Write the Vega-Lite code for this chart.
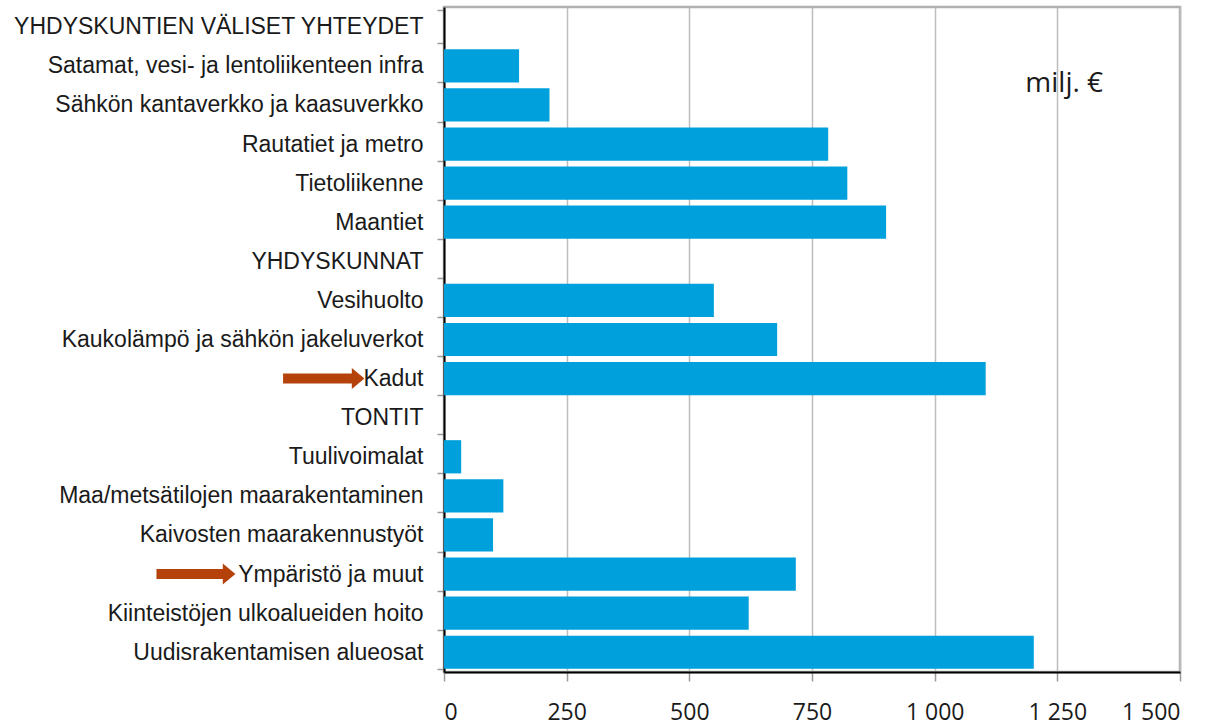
{
  "$schema": "https://vega.github.io/schema/vega-lite/v6.json",
  "autosize": {"type": "none"},
  "width": 736,
  "height": 665,
  "padding": {"left": 444, "top": 7, "right": 39, "bottom": 53},
  "background": "white",
  "config": {
    "view": {"stroke": "#b0b0b0", "strokeWidth": 2.5},
    "axis": {"labelColor": "#1a1a1a", "title": null}
  },
  "datasets": {
    "bars": [
      {"cat": "YHDYSKUNTIEN VÄLISET YHTEYDET", "value": null},
      {"cat": "Satamat, vesi- ja lentoliikenteen infra", "value": 153},
      {"cat": "Sähkön kantaverkko ja kaasuverkko", "value": 215},
      {"cat": "Rautatiet ja metro", "value": 783},
      {"cat": "Tietoliikenne", "value": 822},
      {"cat": "Maantiet", "value": 901},
      {"cat": "YHDYSKUNNAT", "value": null},
      {"cat": "Vesihuolto", "value": 550},
      {"cat": "Kaukolämpö ja sähkön jakeluverkot", "value": 679},
      {"cat": "Kadut", "value": 1104},
      {"cat": "TONTIT", "value": null},
      {"cat": "Tuulivoimalat", "value": 35},
      {"cat": "Maa/metsätilojen maarakentaminen", "value": 121},
      {"cat": "Kaivosten maarakennustyöt", "value": 100},
      {"cat": "Ympäristö ja muut", "value": 717},
      {"cat": "Kiinteistöjen ulkoalueiden hoito", "value": 621},
      {"cat": "Uudisrakentamisen alueosat", "value": 1202}
    ],
    "arrows": [
      {"cat": "Kadut", "start": -328, "end": -185, "head": -175},
      {"cat": "Ympäristö ja muut", "start": -586, "end": -450, "head": -438}
    ],
    "note": [
      {"cat": "Satamat, vesi- ja lentoliikenteen infra", "x": 1264, "text": "milj. €"}
    ]
  },
  "encoding": {
    "y": {
      "field": "cat",
      "type": "nominal",
      "scale": {
        "domain": [
          "YHDYSKUNTIEN VÄLISET YHTEYDET",
          "Satamat, vesi- ja lentoliikenteen infra",
          "Sähkön kantaverkko ja kaasuverkko",
          "Rautatiet ja metro",
          "Tietoliikenne",
          "Maantiet",
          "YHDYSKUNNAT",
          "Vesihuolto",
          "Kaukolämpö ja sähkön jakeluverkot",
          "Kadut",
          "TONTIT",
          "Tuulivoimalat",
          "Maa/metsätilojen maarakentaminen",
          "Kaivosten maarakennustyöt",
          "Ympäristö ja muut",
          "Kiinteistöjen ulkoalueiden hoito",
          "Uudisrakentamisen alueosat"
        ],
        "paddingInner": 0.15,
        "paddingOuter": 0.08
      },
      "axis": {
        "domainColor": "#000000",
        "domainWidth": 2,
        "tickBand": "extent",
        "tickColor": "#9a9a9a",
        "tickSize": 7,
        "tickWidth": 1.5,
        "labelPadding": 14,
        "labelFont": "Liberation Sans",
        "labelFontSize": 23,
        "labelLimit": 0,
        "grid": false
      }
    }
  },
  "layer": [
    {
      "data": {"name": "bars"},
      "mark": {"type": "bar", "color": "#00a0dc"},
      "encoding": {
        "x": {
          "field": "value",
          "type": "quantitative",
          "scale": {"domain": [0, 1500], "nice": false},
          "axis": {
            "values": [0, 250, 500, 750, 1000, 1250, 1500],
            "labelExpr": "replace(format(datum.value, ','), ',', ' ')",
            "domainColor": "#000000",
            "domainWidth": 2,
            "tickColor": "#9a9a9a",
            "tickSize": 9,
            "tickWidth": 1.5,
            "gridColor": "#bdbdbd",
            "gridWidth": 1.5,
            "labelFont": "Open Sans",
            "labelFontSize": 23,
            "labelPadding": 20
          }
        }
      }
    },
    {
      "data": {"name": "arrows"},
      "mark": {"type": "rule", "color": "#b5420a", "strokeWidth": 10},
      "encoding": {
        "x": {"field": "start", "type": "quantitative"},
        "x2": {"field": "end"}
      }
    },
    {
      "data": {"name": "arrows"},
      "mark": {
        "type": "point",
        "shape": "M-0.6,-1L0.6,0L-0.6,1Z",
        "size": 440,
        "filled": true,
        "opacity": 1,
        "color": "#b5420a"
      },
      "encoding": {
        "x": {"field": "head", "type": "quantitative"}
      }
    },
    {
      "data": {"name": "note"},
      "mark": {
        "type": "text",
        "font": "Open Sans",
        "fontSize": 28,
        "color": "#1a1a1a",
        "dy": 18,
        "align": "center",
        "baseline": "middle"
      },
      "encoding": {
        "x": {"field": "x", "type": "quantitative"},
        "text": {"field": "text"}
      }
    }
  ]
}
